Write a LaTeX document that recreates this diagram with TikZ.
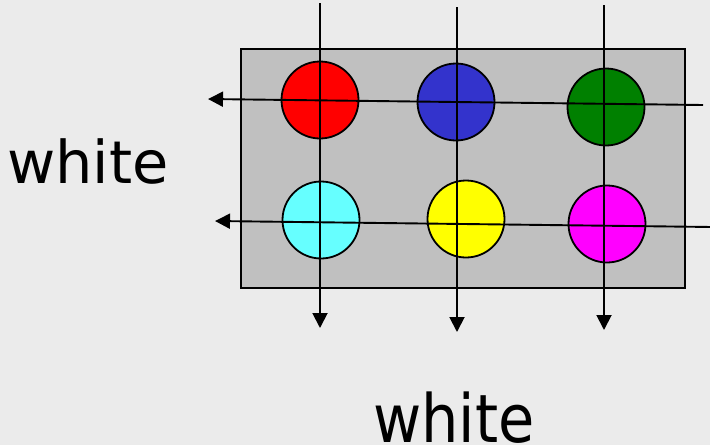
\documentclass[tikz,border=0pt]{standalone}
\usepackage{fontspec}
\setmainfont{DejaVu Sans}
\usetikzlibrary{arrows.meta}
\definecolor{bgc}{HTML}{EBEBEB}
\definecolor{boxc}{HTML}{C0C0C0}
\definecolor{cred}{HTML}{FF0000}
\definecolor{cblue}{HTML}{3333CC}
\definecolor{cgreen}{HTML}{008000}
\definecolor{ccyan}{HTML}{66FFFF}
\definecolor{cyellow}{HTML}{FFFF00}
\definecolor{cmagenta}{HTML}{FF00FF}
\tikzset{
  dot/.style={circle, draw=black, line width=1.8pt, minimum size=77pt, inner sep=0pt},
  ray/.style={draw=black, line width=1.9pt, -{Triangle[length=15pt,width=15pt]}},
  lbl/.style={font=\fontsize{59}{60}\selectfont, inner sep=0pt, text=black}
}
\begin{document}
\begin{tikzpicture}[x=1pt,y=-1pt]
\fill[bgc] (0,0) rectangle (710,445);
\useasboundingbox (0,0) rectangle (710,445);
\node[draw=black, fill=boxc, line width=1.8pt, minimum width=444pt, minimum height=239pt, inner sep=0pt, anchor=north west] (box) at (240,48) {};
\node[dot, fill=cred] (r) at (320,100) {};
\node[dot, fill=cblue] (b) at (456,102) {};
\node[dot, fill=cgreen] (g) at (606,107) {};
\node[dot, fill=ccyan] (c) at (321,220) {};
\node[dot, fill=cyellow] (y) at (466,219) {};
\node[dot, fill=cmagenta] (m) at (607,224) {};
\coordinate (v1s) at (320,3);
\coordinate (v1e) at (320,328);
\coordinate (v2s) at (457,7);
\coordinate (v2e) at (457,332);
\coordinate (v3s) at (604,5);
\coordinate (v3e) at (604,330);
\coordinate (h1s) at (703,105);
\coordinate (h1e) at (208,99);
\coordinate (h2s) at (712,227);
\coordinate (h2e) at (215,221);
\draw[ray] (v1s) -- (v1e);
\draw[ray] (v2s) -- (v2e);
\draw[ray] (v3s) -- (v3e);
\draw[ray] (h1s) -- (h1e);
\draw[ray] (h2s) -- (h2e);
\node[lbl, anchor=base west] (t1) at (7,183) {white};
\node[lbl, anchor=base west] (t2) at (373,442) {\scalebox{1}[1.13]{white}};
\end{tikzpicture}
\end{document}
